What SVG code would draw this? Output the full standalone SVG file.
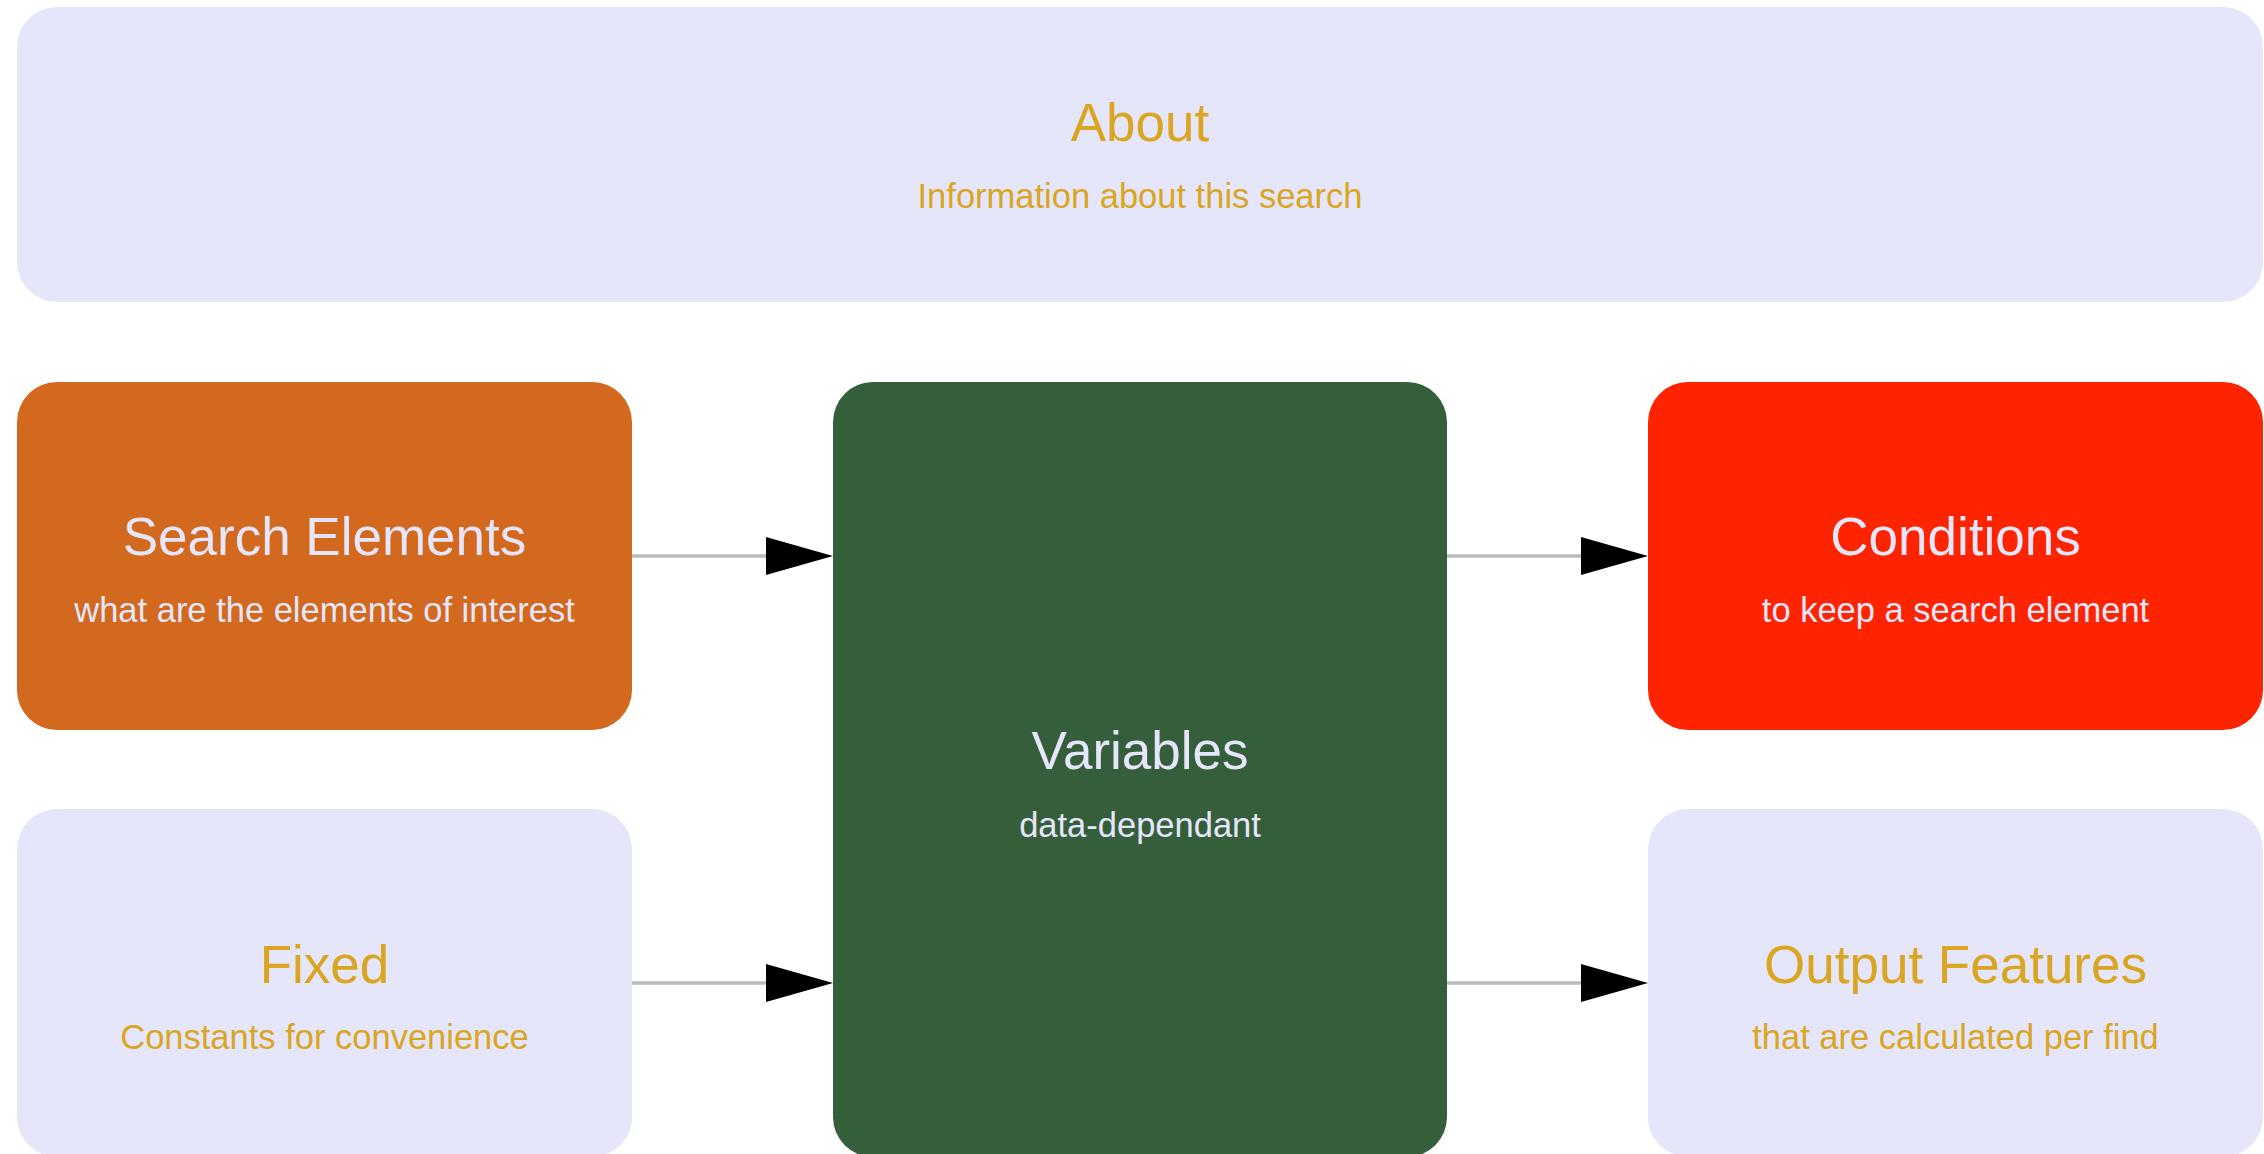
<svg xmlns="http://www.w3.org/2000/svg" width="2264" height="1154" viewBox="0 0 2264 1154">
<style>
.t{font-family:"Liberation Sans",Arial,sans-serif;font-size:53px;text-anchor:middle}
.s{font-family:"Liberation Sans",Arial,sans-serif;font-size:34.5px;text-anchor:middle}
.gold{fill:#DAA520}
.lav{fill:#E6E6FA}
.edge{stroke:#BBBBBB;stroke-width:3.5;fill:none}
</style>
<defs>
<marker id="arr" markerUnits="userSpaceOnUse" markerWidth="68" markerHeight="40" refX="0" refY="19" orient="auto" overflow="visible">
<path d="M0,0 L67,19 L0,38 Z" fill="#000"/>
</marker>
</defs>
<rect width="2264" height="1154" fill="#fff"/>
<g id="connectors">
<line class="edge" x1="632" y1="556" x2="766" y2="556" marker-end="url(#arr)"/>
<line class="edge" x1="632" y1="983" x2="766" y2="983" marker-end="url(#arr)"/>
<line class="edge" x1="1447" y1="556" x2="1581" y2="556" marker-end="url(#arr)"/>
<line class="edge" x1="1447" y1="983" x2="1581" y2="983" marker-end="url(#arr)"/>
</g>
<g id="about">
<rect x="17" y="7" width="2246" height="295" rx="40" fill="#E6E6FA"/>
<text class="t gold" x="1140" y="141">About</text>
<text class="s gold" x="1140" y="208">Information about this search</text>
</g>
<g id="search-elements">
<rect x="17" y="382" width="615" height="348" rx="40" fill="#D2691E"/>
<text class="t lav" x="324.5" y="555">Search Elements</text>
<text class="s lav" x="324.5" y="622">what are the elements of interest</text>
</g>
<g id="variables">
<rect x="833" y="382" width="614" height="775" rx="40" fill="#355E3B"/>
<text class="t lav" x="1140" y="769">Variables</text>
<text class="s lav" x="1140" y="837">data-dependant</text>
</g>
<g id="conditions">
<rect x="1648" y="382" width="615" height="348" rx="40" fill="#FF2400"/>
<text class="t lav" x="1955.5" y="555">Conditions</text>
<text class="s lav" x="1955.5" y="622">to keep a search element</text>
</g>
<g id="fixed">
<rect x="17" y="809" width="615" height="348" rx="40" fill="#E6E6FA"/>
<text class="t gold" x="324.5" y="983">Fixed</text>
<text class="s gold" x="324.5" y="1049">Constants for convenience</text>
</g>
<g id="output-features">
<rect x="1648" y="809" width="615" height="348" rx="40" fill="#E6E6FA"/>
<text class="t gold" x="1955.5" y="983">Output Features</text>
<text class="s gold" x="1955.5" y="1049">that are calculated per find</text>
</g>
</svg>
